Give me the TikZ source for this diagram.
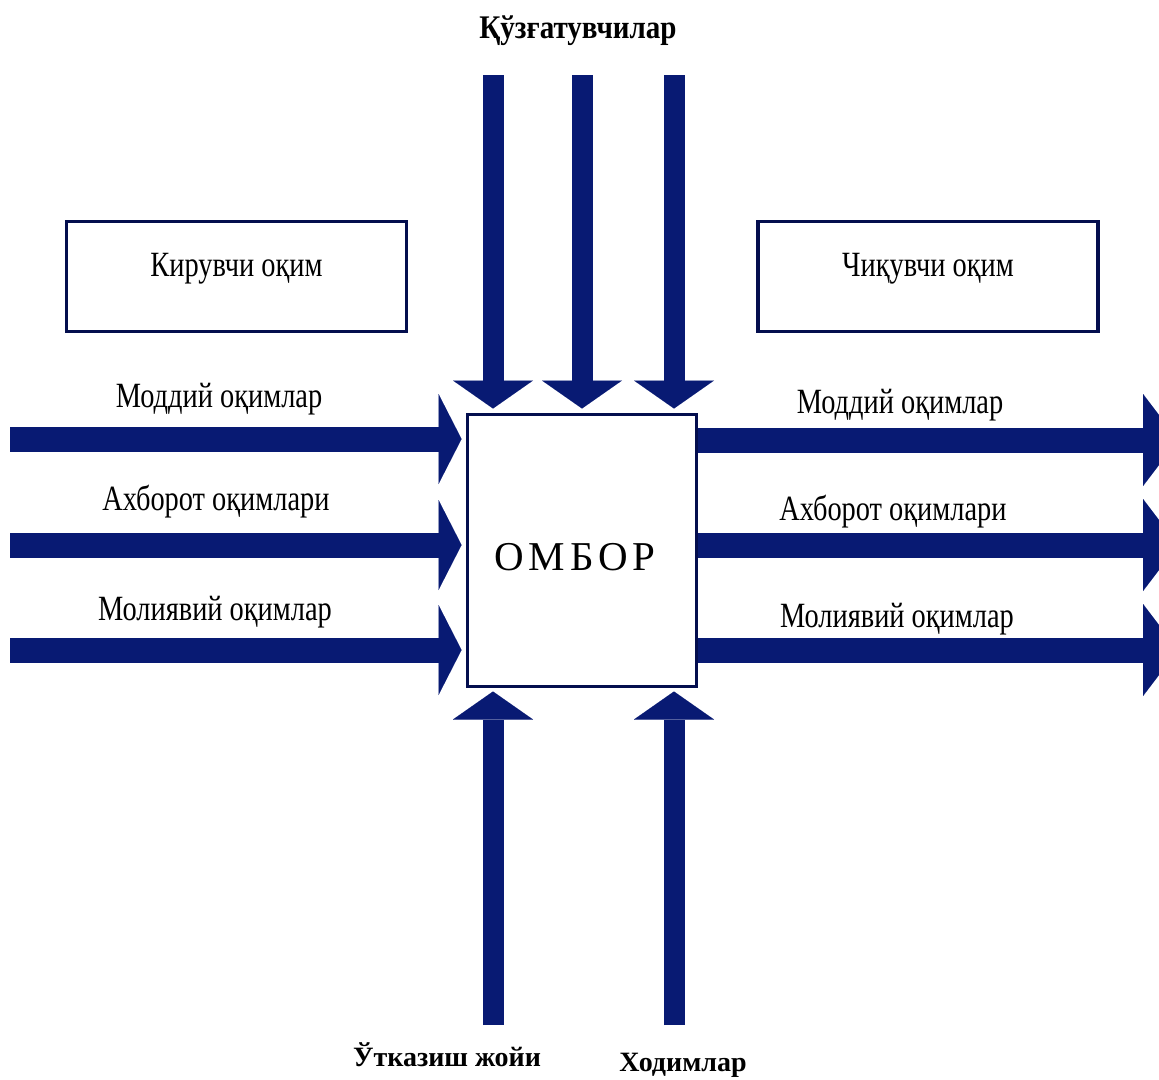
\documentclass[tikz,border=0pt]{standalone}
\usepackage{fontspec}
\setmainfont{Liberation Serif}
\newfontfamily\condfont[FakeStretch=0.8]{Liberation Serif}
\newfontfamily\titlefont[FakeStretch=0.88]{Liberation Serif}
\newfontfamily\spacedfont[LetterSpace=12]{Liberation Serif}
\usetikzlibrary{arrows.meta,calc}
\definecolor{navy}{RGB}{8,26,115}
\definecolor{boxline}{RGB}{4,14,78}
\begin{document}
\begin{tikzpicture}[x=1pt,y=-1pt,
  flowh/.style={line width=25pt,draw=navy,
    -{Triangle[length=23pt,width=90pt,line width=0.01pt]}},
  flowout/.style={line width=25pt,draw=navy,
    -{Triangle[length=35pt,width=92pt,line width=0.01pt]}},
  flowv/.style={line width=21pt,draw=navy,
    -{Triangle[length=28pt,width=80pt,line width=0.01pt]}},
  flowlbl/.style={font=\condfont\fontsize{35.5}{35.5}\selectfont,anchor=base,inner sep=0pt},
  boldlbl/.style={font=\bfseries\fontsize{28}{28}\selectfont,anchor=base,inner sep=0pt},
  headbox/.style={draw=boxline,line width=3.5pt,minimum width=340pt,minimum height=110pt,
    font=\condfont\fontsize{35.5}{35.5}\selectfont,text height=22pt,text depth=22pt,inner sep=0pt},
  storebox/.style={draw=boxline,line width=3pt,fill=white,minimum width=229pt,minimum height=272pt,
    font=\spacedfont\fontsize{41}{41}\selectfont,text height=50pt,text depth=11pt,inner sep=0pt}
]
\useasboundingbox (0,0) rectangle (1159,1079);
\clip (0,0) rectangle (1159,1079);

% central node
\node[storebox] (ombor) at (582,550.5) {ОМБОР\kern14pt};

% header boxes
\node[headbox] (kir) at (236.5,276.5) {Кирувчи оқим};
\node[headbox] (chiq) at (928,276.5) {Чиқувчи оқим};

% free ends
\coordinate (l1) at (10,439);
\coordinate (l2) at (10,545);
\coordinate (l3) at (10,650);
\coordinate (r1) at (1178,440);
\coordinate (r2) at (1178,545);
\coordinate (r3) at (1178,650);
\coordinate (t1) at (493,75);
\coordinate (t2) at (582,75);
\coordinate (t3) at (674,75);
\coordinate (b1) at (493,1025);
\coordinate (b2) at (674,1025);

% incoming flows (left)
\draw[flowh,shorten >=4.5pt] (l1) -- (l1 -| ombor.west);
\draw[flowh,shorten >=4.5pt] (l2) -- (l2 -| ombor.west);
\draw[flowh,shorten >=4.5pt] (l3) -- (l3 -| ombor.west);

% outgoing flows (right)
\draw[flowout] (r1 -| ombor.east) -- (r1);
\draw[flowout] (r2 -| ombor.east) -- (r2);
\draw[flowout] (r3 -| ombor.east) -- (r3);

% top flows
\draw[flowv,shorten >=4.5pt] (t1) -- (t1 |- ombor.north);
\draw[flowv,shorten >=4.5pt] (t2) -- (t2 |- ombor.north);
\draw[flowv,shorten >=4.5pt] (t3) -- (t3 |- ombor.north);

% bottom flows
\draw[flowv,shorten >=3.5pt] (b1) -- (b1 |- ombor.south);
\draw[flowv,shorten >=3.5pt] (b2) -- (b2 |- ombor.south);

% labels
\node[flowlbl] (lm) at (219,407) {Моддий оқимлар};
\node[flowlbl] (la) at (216,510) {Ахборот оқимлари};
\node[flowlbl] (lf) at (215,620) {Молиявий оқимлар};
\node[flowlbl] (rm) at (900,413) {Моддий оқимлар};
\node[flowlbl] (ra) at (893,520) {Ахборот оқимлари};
\node[flowlbl] (rf) at (897,627) {Молиявий оқимлар};

\node[font=\titlefont\bfseries\fontsize{33}{33}\selectfont,anchor=base,inner sep=0pt] (top) at (578,38) {Қўзғатувчилар};
\node[boldlbl] (bl) at (447,1066) {Ўтказиш жойи};
\node[boldlbl] (br) at (683,1071) {Ходимлар};
\end{tikzpicture}
\end{document}
